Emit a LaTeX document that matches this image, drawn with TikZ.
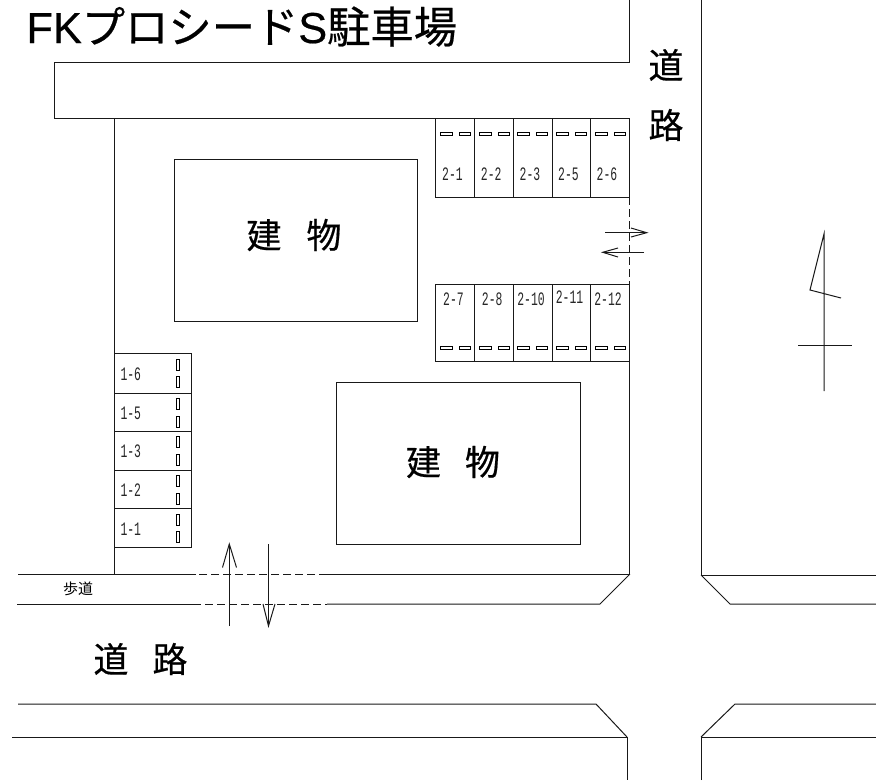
\documentclass[tikz,border=0pt]{standalone}
\usepackage{fontspec}
\setmainfont[FakeBold=0.5]{Liberation Sans}
\newfontfamily\cjk[FakeBold=0.5]{Noto Sans CJK JP}
\newfontfamily\cjkthin{Noto Sans CJK JP}
\newfontfamily\lotfont{Liberation Mono}
\newcommand{\lotlabel}[1]{\scalebox{0.6}[1]{\lotfont\fontsize{19}{19}\selectfont #1}}

\begin{document}
\begin{tikzpicture}[x=1pt,y=-1pt,line width=1pt,
    wall/.style={draw=black!90},
    gate/.style={draw=black!90,dash pattern=on 8pt off 4pt},
    stopper/.style={draw=black,fill=white,line width=0.9pt},
    biglabel/.style={inner sep=0pt,font=\cjk\fontsize{35}{35}\selectfont},
    lotlabel/.style={inner sep=0pt,text=black!85}]

    \useasboundingbox (0,0) rectangle (876,780);

    % title
    \node[anchor=base west,inner sep=0pt,font=\fontsize{43.3}{43.3}\selectfont] (title) at (26,43)
        {FK{\cjk プロシード}S{\cjk 駐車場}};

    % roads
    \draw[wall] (629,0) -- (629,62) -- (54,62) -- (54,118) -- (629,118) -- (629,197);
    \draw[gate] (629,197) -- (629,284);
    \draw[wall] (629,284) -- (629,574) -- (327,574);
    \draw[gate] (327,574) -- (196,574);
    \draw[wall] (196,574) -- (18,574);
    \draw[wall] (114,118) -- (114,574);
    \draw[wall] (17,604) -- (193,604);
    \draw[gate] (193,604) -- (327,604);
    \draw[wall] (327,604) -- (600,604) -- (630,574);
    \draw[wall] (701,0) -- (701,575) -- (876,575);
    \draw[wall] (701,575) -- (730,604) -- (876,604);
    \draw[wall] (18,704) -- (596,704) -- (627,737);
    \draw[wall] (12,737) -- (627,737) -- (627,780);
    \draw[wall] (701,780) -- (701,737) -- (876,737);
    \draw[wall] (701,737) -- (735,704) -- (876,704);

    % buildings
    \node[wall,minimum width=243pt,minimum height=162pt,inner sep=0pt] (bldgA) at (295.5,240) {};
    \node[wall,minimum width=244pt,minimum height=162pt,inner sep=0pt] (bldgB) at (458,463) {};
    \node[biglabel] (bldgAtext) at (294,235) {建\hspace{25pt}物};
    \node[biglabel] (bldgBtext) at (453,462) {建\hspace{24pt}物};

    % road names
    \node[biglabel] (roadA) at (666,65) {道};
    \node[biglabel] (roadB) at (666,125) {路};
    \node[biglabel] (roadC) at (111,659) {道};
    \node[biglabel] (roadD) at (170,659) {路};
    \node[inner sep=0pt,font=\cjkthin\fontsize{15}{15}\selectfont] (walk) at (78,589) {歩道};

    % parking, upper and lower rows
    \foreach \xa/\xb/\name/\namelow/\ylow in {435.5/474.5/2-1/2-7/299,474.5/513/2-2/2-8/299,513/552/2-3/2-10/299,552/590/2-5/2-11/297,590/629/2-6/2-12/299} {
        \draw[wall] (\xa,118) rectangle (\xb,197);
        \draw[wall] (\xa,284) rectangle (\xb,361);
        \node[lotlabel] at (\xa/2+\xb/2-2.5,174) {\lotlabel{\name}};
        \node[lotlabel] at (\xa/2+\xb/2-1.5,\ylow) {\lotlabel{\namelow}};
    }
    \foreach \xa in {440,479,517,556,595} {
        \draw[stopper] (\xa,132) rectangle ++(12,3);
        \draw[stopper] (\xa+19,132) rectangle ++(11.5,3);
        \draw[stopper] (\xa,346.5) rectangle ++(12,3);
        \draw[stopper] (\xa+19,346.5) rectangle ++(11.5,3);
    }

    % parking, left column
    \foreach \ya/\yb/\name in {353.5/393/1-6,393/431/1-5,431/470/1-3,470/508.5/1-2,508.5/547.5/1-1} {
        \draw[wall] (114,\ya) rectangle (191.5,\yb);
        \node[lotlabel,anchor=west] at (120,\ya/2+\yb/2+1) {\lotlabel{\name}};
        \draw[stopper] (176,\ya+5.5) rectangle ++(3.5,11);
        \draw[stopper] (176,\ya+23) rectangle ++(3.5,11);
    }

    % way in and out
    \coordinate (inA) at (229.3,626);
    \coordinate (inB) at (229.3,544);
    \coordinate (outA) at (268.5,544);
    \coordinate (outB) at (268.5,626);
    \coordinate (inC) at (605,232.7);
    \coordinate (inD) at (646.7,232.7);
    \coordinate (outC) at (644,252.3);
    \coordinate (outD) at (602.7,252.3);
    \draw[wall] (inA) -- (inB);
    \draw[wall] (222.5,567.5) -- (inB) -- (236.5,567.5);
    \draw[wall] (outA) -- (outB);
    \draw[wall] (263,604) -- (outB) -- (275,604);
    \draw[wall] (inC) -- (inD);
    \draw[wall] (631,228) -- (inD) -- (631,237);
    \draw[wall] (outC) -- (outD);
    \draw[wall] (618,248) -- (outD) -- (618,257);

    % north mark
    \coordinate (northtop) at (824,234);
    \coordinate (northbot) at (824,391);
    \coordinate (northknee) at (810,290);
    \coordinate (northend) at (841,298);
    \coordinate (crossA) at (798,345);
    \coordinate (crossB) at (852,345);
    \draw[wall] (northbot) -- (northtop) -- (northknee) -- (northend);
    \draw[wall] (crossA) -- (crossB);
\end{tikzpicture}
\end{document}
